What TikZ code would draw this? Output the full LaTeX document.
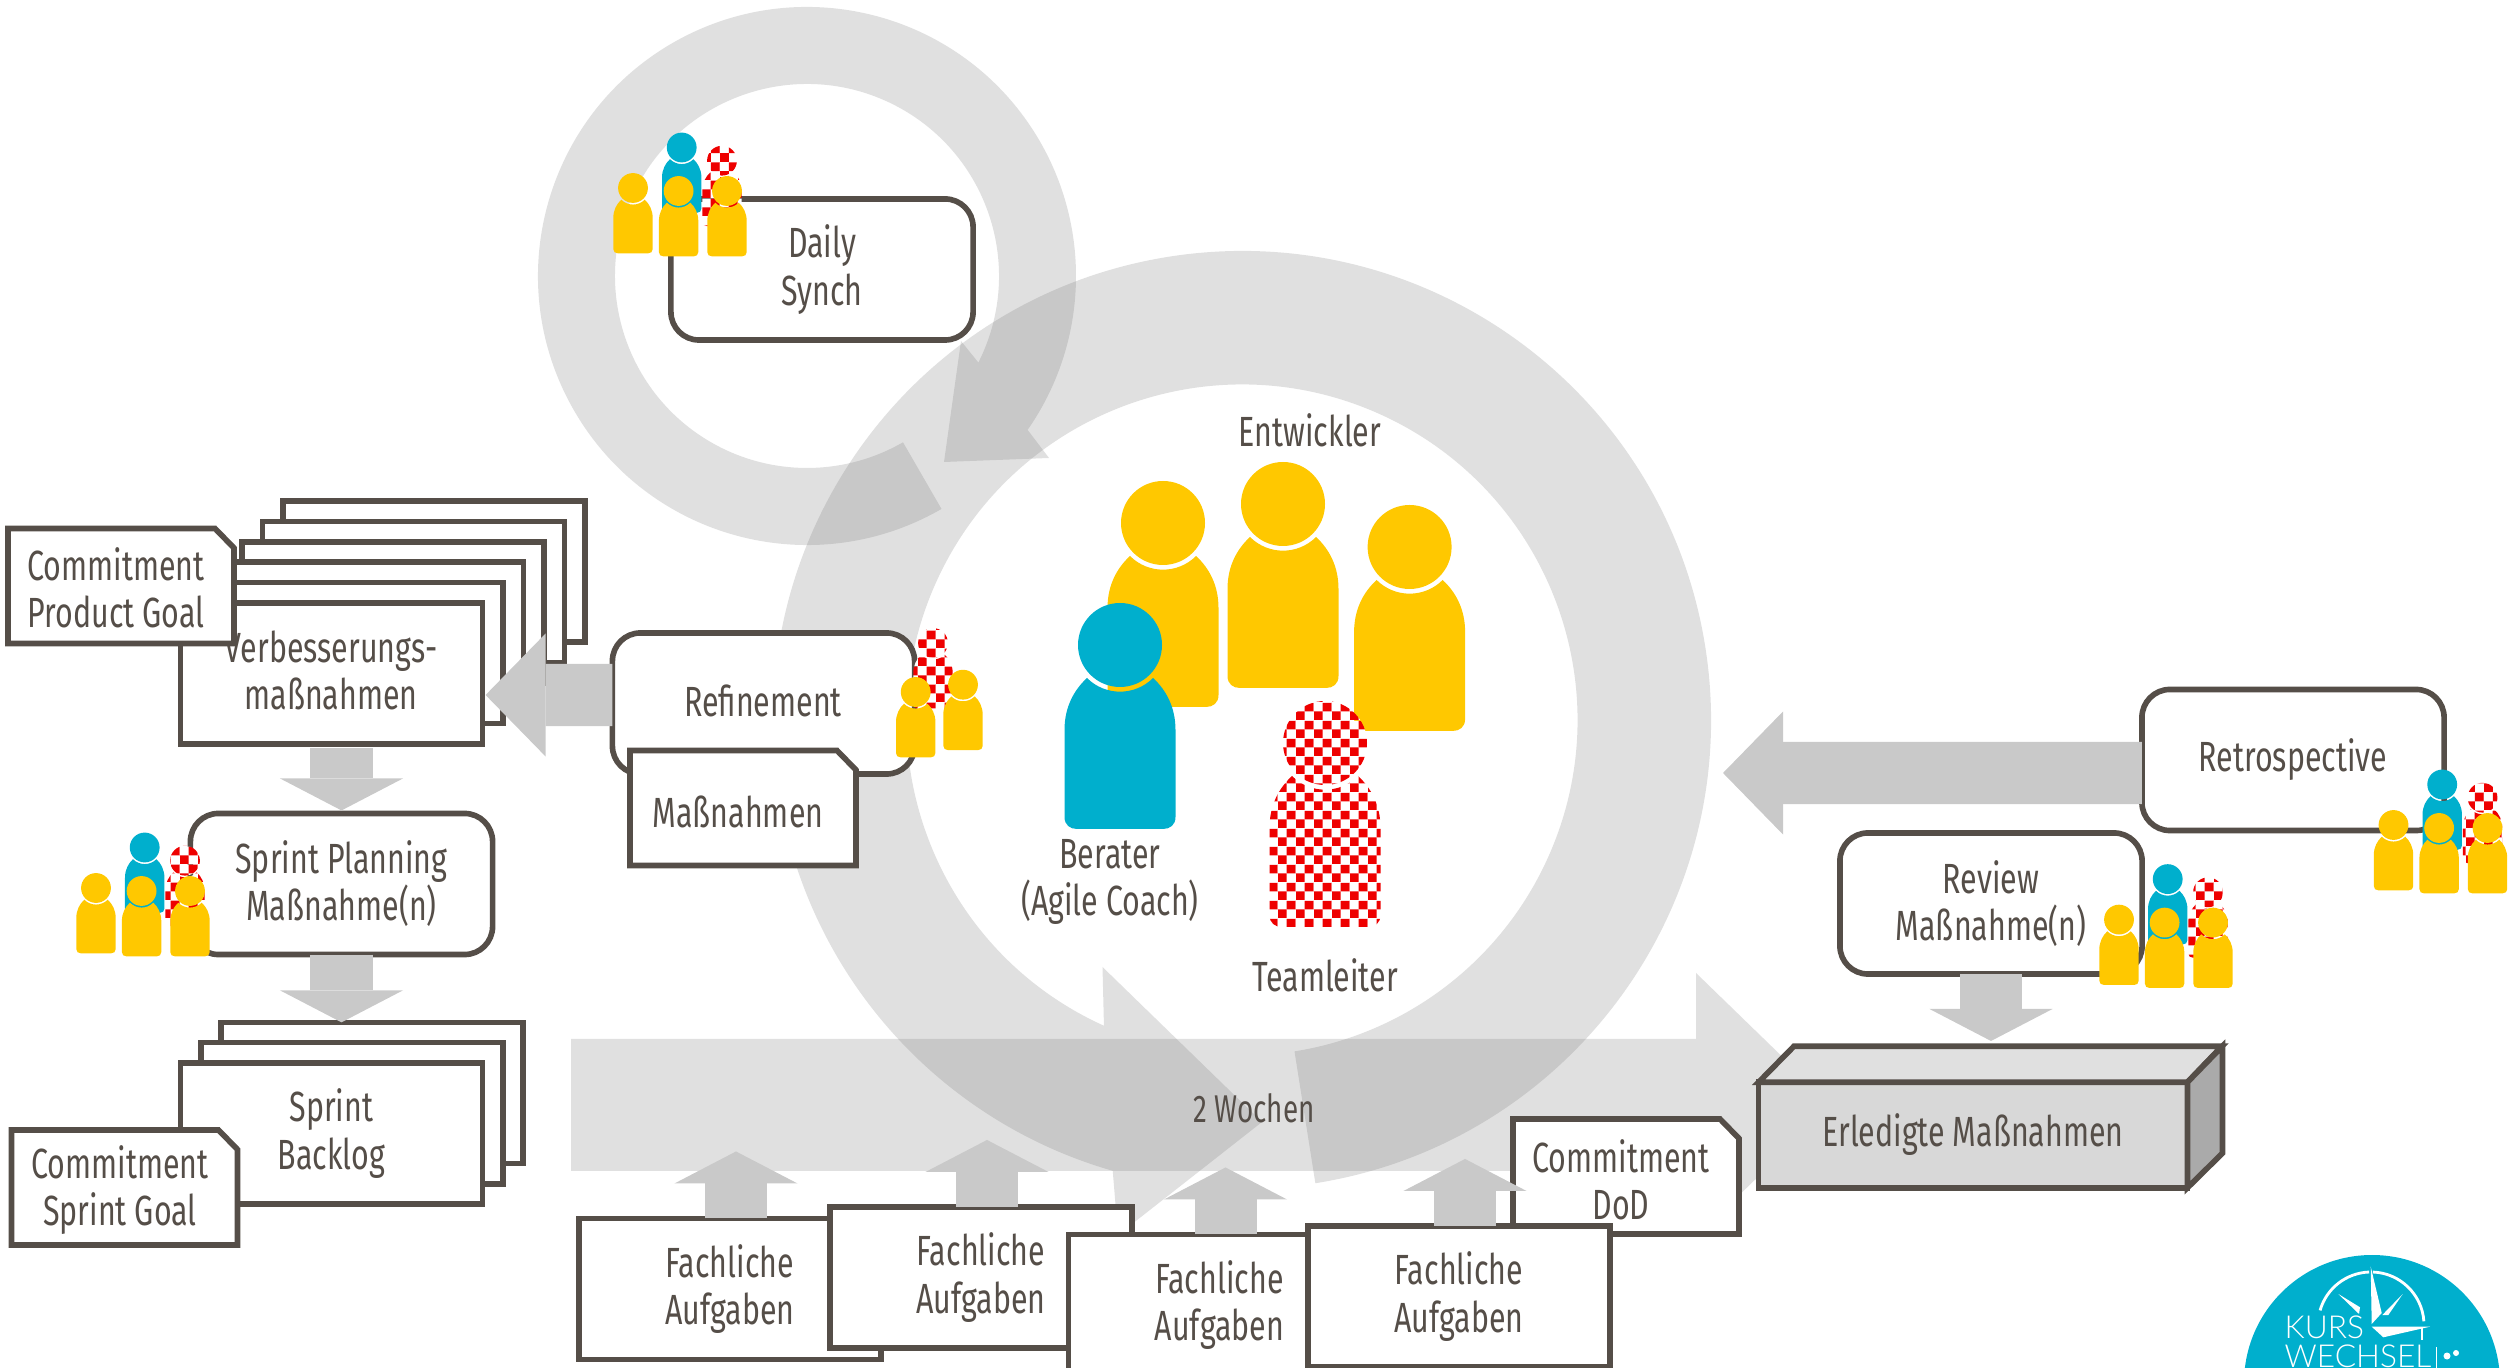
\documentclass[tikz,border=0pt]{standalone}
\usepackage{fontspec}
\setmainfont{Fira Sans}[FakeStretch=0.72]
\newfontfamily\logofont{Lato Light}
\usepackage{xcolor}
\usetikzlibrary{positioning, calc, arrows.meta, patterns}
\definecolor{linebrown}{RGB}{85,78,72}
\definecolor{ringgray}{RGB}{118,118,118}
\definecolor{blockgray}{RGB}{201,201,201}
\definecolor{persyellow}{RGB}{255,200,0}
\definecolor{persblue}{RGB}{0,175,205}
\definecolor{persred}{RGB}{238,0,0}
\pgfdeclarepatterninherentlycolored{redcheck}{\pgfpointorigin}{\pgfqpoint{5.12pt}{5.12pt}}{\pgfqpoint{5.12pt}{5.12pt}}{
	\pgfsetfillcolor{white}
	\pgfpathrectangle{\pgfpointorigin}{\pgfqpoint{5.12pt}{5.12pt}}\pgfusepath{fill}
	\pgfsetfillcolor{persred}
	\pgfpathrectangle{\pgfpointorigin}{\pgfqpoint{2.56pt}{2.56pt}}\pgfusepath{fill}
	\pgfpathrectangle{\pgfqpoint{2.56pt}{2.56pt}}{\pgfqpoint{2.56pt}{2.56pt}}\pgfusepath{fill}
}
\tikzset{lbl/.style={text=linebrown, align=center, inner sep=0pt, font=\fontsize{12}{13.4}\selectfont}}
\tikzset{ringfill/.style={fill=ringgray, fill opacity=0.226}}
\tikzset{plainbox/.style={lbl, draw=linebrown, line width=1.6pt, fill=white, minimum width=3.02cm, minimum height=1.41cm, outer sep=0pt}}
\tikzset{roundbox/.style={plainbox, rounded corners=0.28cm}}
\tikzset{docline/.style={draw=linebrown, line width=1.6pt, fill=white}}
\tikzset{blockarr/.style={draw=blockgray, line width=0.62cm, -{Triangle[length=0.32cm,width=1.23cm,line width=0pt]}}}
\tikzset{blockarrlong/.style={draw=blockgray, line width=0.62cm, -{Triangle[length=0.6cm,width=1.23cm,line width=0pt]}}}
\newcommand\docnode[6]{
	\draw[docline, shift={(#2,#3)}] (-113,-57.5) -- (94,-57.5) -- (113,-38) -- (113,57.5) -- (-113,57.5) -- cycle;
	\node[lbl] (#1) at (#4,#5) {#6};
}
\newcommand\person[4]{
	\path[shift={(#1,#2)}, scale=#3, #4] (-55.5,172) -- (-55.5,85) .. controls (-55.5,62) and (-46,45) .. (-33,33)
		arc[start angle=135, end angle=45, radius=46.7] .. controls (46,45) and (55.5,62) .. (55.5,85)
		-- (55.5,172) .. controls (55.5,180) and (50,184) .. (43,184) -- (-43,184)
		.. controls (-50,184) and (-55.5,180) .. (-55.5,172) -- cycle;
	\path[shift={(#1,#2)}, scale=#3, #4] (0,0) circle[radius=42];
}
\newcommand\teamfive[2]{
	\person{#1+48.7}{#2-40.5}{0.355}{fill=persblue}
	\person{#1+89}{#2-27.3}{0.355}{pattern=redcheck}
	\person{#1}{#2}{0.355}{fill=persyellow}
	\person{#1+45.6}{#2+3}{0.355}{fill=persyellow}
	\person{#1+94}{#2+3}{0.355}{fill=persyellow}
}
\begin{document}
\begin{tikzpicture}[x=0.01cm, y=-0.01cm]
	\path[use as bounding box, clip] (0,0) rectangle (2509,1368);

	% rings and the time bar
	\fill[ringfill, shift={(807,276)}] (60:269) arc[start angle=60, end angle=394.9, radius=269]
		-- (242,182) -- (137,186) -- (154,65) -- (386.8:192)
		arc[start angle=386.8, end angle=60, radius=192] -- cycle;
	\fill[ringfill, shift={(1242,720)}] (81:469) arc[start angle=81, end angle=-254, radius=469]
		-- (-124,515) -- (20,402) -- (-139.5,247) -- (-245.7:335.5)
		arc[start angle=-245.7, end angle=81, radius=335.5] -- cycle;
	\fill[ringfill] (571,1039) -- (1696,1039) -- (1696,973) -- (1832,1105) -- (1696,1237) -- (1696,1171) -- (571,1171) -- cycle;
	\node[lbl, font=\fontsize{11}{12}\selectfont] (weeks) at (1254,1108) {2 Wochen};

	% left column
	\foreach \i in {5,...,1}
		\node[plainbox] (verb\i) at ({331.5+20.5*\i},{673.5-20.4*\i}) {};
	\node[plainbox] (verb0) at (331.5,673.5) {};
	\node[lbl] (verb-t) at (331,670) {Verbesserungs-\\maßnahmen};
	\docnode{prodgoal}{121}{586}{116}{588}{Commitment\\Product Goal}
	\node[roundbox] (plan) at (341.5,884) {Sprint Planning\\Maßnahme(n)};
	\foreach \i in {2,1}
		\node[plainbox] (back\i) at ({331.5+20.3*\i},{1133.5-20.3*\i}) {};
	\node[plainbox] (back0) at (331.5,1133.5) {Sprint\\Backlog};
	\docnode{sprintgoal}{124.5}{1187.5}{120}{1190}{Commitment\\Sprint Goal}
	\draw[blockarr, shorten <=0.04cm, shorten >=0.03cm] (plan.north |- verb0.south) -- (plan.north);
	\draw[blockarr] (plan.south) -- (back2.north -| plan.south);

	% upper events
	\node[roundbox] (daily) at (822,269.5) {Daily\\Synch};
	\node[roundbox] (refine) at (763.5,703.5) {};
	\node[lbl] (refine-t) at (763,701) {Refinement};
	\docnode{actions}{743}{808}{738}{812}{Maßnahmen}
	\draw[blockarrlong] ([yshift=0.085cm]refine.west) -- ([xshift=0.03cm, yshift=-0.215cm]verb0.east);

	% right column
	\node[roundbox] (retro) at (2293,760) {Retrospective};
	\node[roundbox] (review) at (1991,903.5) {Review\\Maßnahme(n)};
	\coordinate (raisetip) at (1723,773);
	\draw[blockarrlong] ([yshift=-0.13cm]retro.west) -- (raisetip);
	\node[plainbox, draw=linebrown, fill={rgb,255:red,216;green,216;blue,216}, minimum width=4.286cm, minimum height=1.055cm] (done) at (1973,1135) {Erledigte Maßnahmen};
	\draw[line width=1.6pt, draw=linebrown, fill={rgb,255:red,224;green,224;blue,224}] (done.north west) -- ++(35.4,-36) -- ++(428,0) -- (done.north east) -- cycle;
	\draw[line width=1.6pt, draw=linebrown, fill={rgb,255:red,170;green,170;blue,170}] (done.north east) -- ++(35,-36) -- ++(0,107) -- (done.south east) -- cycle;
	\draw[blockarr, shorten >=0.05cm] (review.south) -- (review.south |- 0,1046);

	% task boxes
	\docnode{dod}{1626}{1176.5}{1621}{1179.5}{Commitment\\DoD}
	\node[plainbox] (fach1) at (730,1289) {Fachliche\\Aufgaben};
	\node[plainbox] (fach2) at (981,1277.5) {Fachliche\\Aufgaben};
	\node[plainbox] (fach3) at (1219.5,1305) {Fachliche\\Aufgaben};
	\node[plainbox] (fach4) at (1459,1296.5) {Fachliche\\Aufgaben};
	\foreach \i in {1,...,4}
		\draw[blockarr] ([xshift=0.06cm]fach\i.north) -- ++(0,-67);

	% centre team
	\person{1163}{523}{1}{fill=persyellow}
	\person{1283}{504}{1}{fill=persyellow}
	\person{1409.6}{547}{1}{fill=persyellow}
	\person{1120}{645}{1}{fill=persblue}
	\person{1325}{743}{1}{pattern=redcheck}
	\node[lbl] (devs) at (1310,430) {Entwickler};
	\node[lbl] (coach) at (1110,882) {Berater\\(Agile Coach)};
	\node[lbl] (lead) at (1325,975) {Teamleiter};

	% small teams
	\teamfive{633}{188}
	\teamfive{96}{888}
	\teamfive{2393.5}{825}
	\teamfive{2119}{919.6}
	\person{933}{643}{0.355}{pattern=redcheck}
	\person{915.7}{692}{0.355}{fill=persyellow}
	\person{963}{684.7}{0.355}{fill=persyellow}

	% logo
	\fill[persblue] (2372,1383) circle[radius=128];
	\draw[white, line width=0.8pt, shift={(2371,1325)}] (196:53) arc[start angle=196, end angle=268, radius=53];
	\draw[white, line width=0.8pt, shift={(2371,1325)}] (272:53) arc[start angle=272, end angle=356, radius=53];
	\draw[white, line width=0.6pt] (2421.7,1327) -- (2421.7,1340);
	\fill[white] (2370.7,1266.7) -- (2381.7,1313) -- (2371.7,1324) -- cycle;
	\fill[white] (2338.3,1294) -- (2360,1307.3) -- (2359,1314) -- cycle;
	\fill[white] (2402.7,1294) -- (2388.3,1315) -- (2382.3,1315) -- cycle;
	\fill[white] (2371.7,1326.7) -- (2430,1326.7) -- (2383.3,1337.3) -- cycle;
	\node[anchor=base west, inner sep=0pt, text=white, font=\logofont\fontsize{9}{10}\selectfont] (kurs) at (2284,1338) {KURS};
	\node[anchor=base west, inner sep=0pt, text=white, font=\logofont\fontsize{9}{10}\selectfont] (wechsel) at (2284,1367) {WECHSEL};
	\draw[white, line width=0.3pt] (2436.7,1347) -- (2436.7,1368);
	\fill[white] (2447,1356) circle[radius=3.5] (2456,1353) circle[radius=3];
\end{tikzpicture}
\end{document}
